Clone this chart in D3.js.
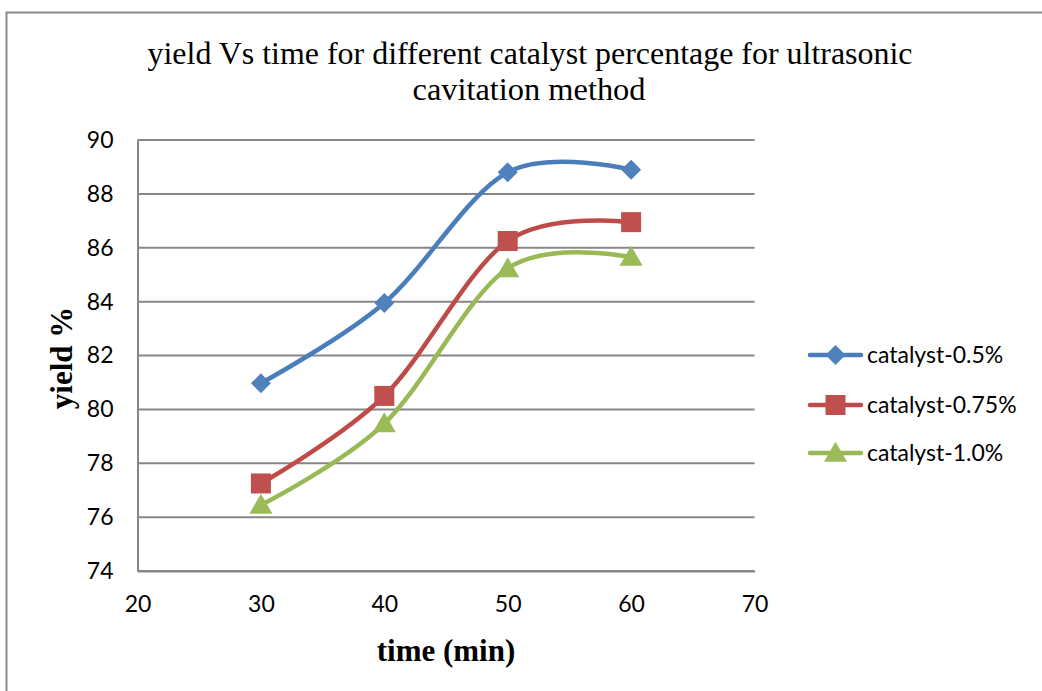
<!DOCTYPE html>
<html>
<head>
<meta charset="utf-8">
<script src="https://cdn.jsdelivr.net/npm/d3@7"></script>
<style>
  html, body { margin: 0; padding: 0; background: #fff; }
  svg { display: block; }
</style>
</head>
<body>
<svg id="chart" width="1042" height="691"></svg>
<script>
// Reaction time (min) on the x axis
const times = [30, 40, 50, 60];

// Yield (%) for each catalyst loading
const seriesNames = ["catalyst-0.5%", "catalyst-0.75%", "catalyst-1.0%"];
const yield05 = [80.97, 83.95, 88.8, 88.9];
const yield075 = [77.25, 80.5, 86.25, 86.95];
const yield10 = [76.45, 79.47, 85.23, 85.65];

// Axis ticks
const xTicks = [20, 30, 40, 50, 60, 70];
const yTicks = [74, 76, 78, 80, 82, 84, 86, 88, 90];

const titleLines = ["yield Vs time for different catalyst percentage for ultrasonic", "cavitation method"];
const xTitle = "time (min)";
const yTitle = "yield %";

const series = [
  { name: seriesNames[0], values: yield05, line: "#4a7ebb", fill: "#4f81bd", shape: "diamond" },
  { name: seriesNames[1], values: yield075, line: "#be4b48", fill: "#c0504d", shape: "square" },
  { name: seriesNames[2], values: yield10, line: "#98b954", fill: "#9bbb59", shape: "triangle" }
];

const svg = d3.select("#chart");

// Outer chart frame
svg.append("rect")
  .attr("x", 6.5).attr("y", 12.5)
  .attr("width", 1100).attr("height", 800)
  .attr("fill", "none")
  .attr("stroke", "#8c8c8c")
  .attr("stroke-width", 2);

const plot = { left: 137.5, right: 754.5, top: 140, bottom: 571 };

const x = d3.scaleLinear().domain([20, 70]).range([plot.left, plot.right]);
const y = d3.scaleLinear().domain([74, 90]).range([plot.bottom, plot.top]);

// Title (condensed serif)
const title = svg.append("text")
  .attr("text-anchor", "middle")
  .attr("font-family", "'Liberation Serif', 'Times New Roman', serif")
  .attr("font-size", 32)
  .attr("fill", "#000");
title.append("tspan").attr("x", 530).attr("y", 64).text(titleLines[0])
  .attr("textLength", 765).attr("lengthAdjust", "spacingAndGlyphs");
title.append("tspan").attr("x", 529).attr("y", 100).text(titleLines[1])
  .attr("textLength", 233).attr("lengthAdjust", "spacingAndGlyphs");

// Horizontal gridlines
svg.append("g")
  .selectAll("line")
  .data(yTicks)
  .join("line")
  .attr("x1", plot.left).attr("x2", plot.right)
  .attr("y1", d => y(d)).attr("y2", d => y(d))
  .attr("stroke", "#868686")
  .attr("stroke-width", 2);

// Y axis
const yAxis = svg.append("g")
  .attr("transform", `translate(${plot.left},0)`)
  .call(d3.axisLeft(y).tickValues(yTicks).tickSize(0).tickPadding(24).tickFormat(d3.format("d")));
yAxis.select(".domain").attr("stroke", "#868686").attr("stroke-width", 2);
yAxis.selectAll("text")
  .attr("font-family", "Lato, 'Open Sans', sans-serif")
  .attr("font-size", 23)
  .attr("fill", "#000");

// X axis
const xAxis = svg.append("g")
  .attr("transform", `translate(0,${plot.bottom})`)
  .call(d3.axisBottom(x).tickValues(xTicks).tickSize(0).tickPadding(25).tickFormat(d3.format("d")));
xAxis.select(".domain").attr("stroke", "#868686").attr("stroke-width", 2);
xAxis.selectAll("text")
  .attr("font-family", "Lato, 'Open Sans', sans-serif")
  .attr("font-size", 23)
  .attr("fill", "#000");

// Axis titles
svg.append("text")
  .attr("x", 446).attr("y", 661)
  .attr("text-anchor", "middle")
  .attr("font-family", "'Liberation Serif', 'Times New Roman', serif")
  .attr("font-weight", "bold")
  .attr("font-size", 31)
  .text(xTitle);

svg.append("text")
  .attr("transform", "translate(72,358) rotate(-90)")
  .attr("text-anchor", "middle")
  .attr("font-family", "'Liberation Serif', 'Times New Roman', serif")
  .attr("font-weight", "bold")
  .attr("font-size", 31)
  .text(yTitle);

// Marker shapes
const symbolFor = {
  diamond: d3.symbol().type(d3.symbolSquare).size(200),
  square: d3.symbol().type(d3.symbolSquare).size(400),
  triangle: d3.symbol().type(d3.symbolTriangle).size(230)
};
function drawMarker(g, s, cx, cy) {
  const p = g.append("path")
    .attr("d", symbolFor[s.shape]())
    .attr("fill", s.fill);
  if (s.shape === "diamond") {
    p.attr("transform", `translate(${cx},${cy}) rotate(45)`);
  } else if (s.shape === "triangle") {
    p.attr("transform", `translate(${cx},${cy + 2})`);
  } else {
    p.attr("transform", `translate(${cx},${cy})`);
  }
}

// Smoothed series lines
const line = d3.line()
  .x((d, i) => x(times[i]))
  .y(d => y(d))
  .curve(d3.curveCardinal.tension(0));

const seriesG = svg.append("g");
series.forEach(s => {
  const g = seriesG.append("g");
  g.append("path")
    .datum(s.values)
    .attr("d", line)
    .attr("fill", "none")
    .attr("stroke", s.line)
    .attr("stroke-width", 4.5)
    .attr("stroke-linecap", "round")
    .attr("stroke-linejoin", "round");
  s.values.forEach((v, i) => drawMarker(g, s, x(times[i]), y(v)));
});

// Legend
const legend = svg.append("g");
const legendRows = [355, 405, 453];
series.forEach((s, i) => {
  const ly = legendRows[i];
  const g = legend.append("g");
  g.append("line")
    .attr("x1", 810).attr("x2", 861)
    .attr("y1", ly).attr("y2", ly)
    .attr("stroke", s.line)
    .attr("stroke-width", 4.5)
    .attr("stroke-linecap", "round");
  drawMarker(g, s, 835.5, ly);
  g.append("text")
    .attr("x", 867).attr("y", ly)
    .attr("dy", "0.35em")
    .attr("font-family", "Lato, 'Open Sans', sans-serif")
    .attr("font-size", 23)
    .attr("fill", "#000")
    .text(s.name);
});
</script>
</body>
</html>
